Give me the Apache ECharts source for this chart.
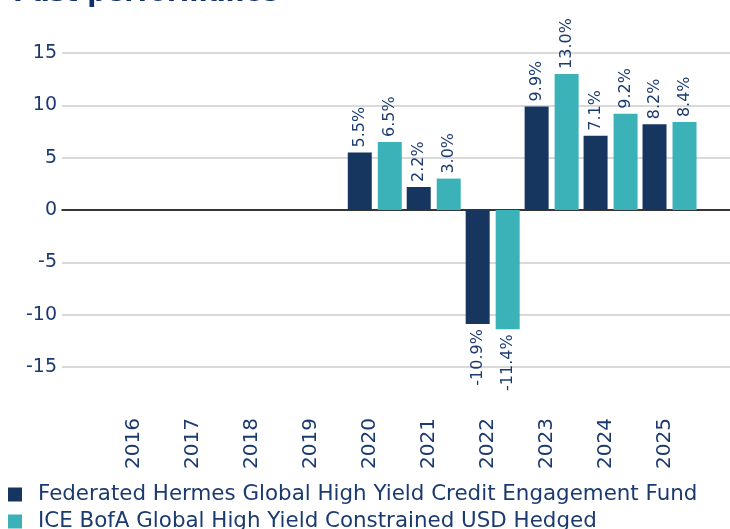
<!DOCTYPE html>
<html>
<head>
<meta charset="utf-8">
<script src="https://cdn.jsdelivr.net/npm/echarts@6/dist/echarts.min.js"></script>
<style>
  html, body { margin: 0; padding: 0; background: #fff; }
  #chart { width: 730px; height: 529px; }
</style>
</head>
<body>
<div id="chart"></div>
<script>
// past performance, calendar years
const years = ['2016', '2017', '2018', '2019', '2020', '2021', '2022', '2023', '2024', '2025'];
const fundReturns = [null, null, null, null, 5.5, 2.2, -10.9, 9.9, 7.1, 8.2];
const indexReturns = [null, null, null, null, 6.5, 3.0, -11.4, 13.0, 9.2, 8.4];
const seriesNames = [
  'Federated Hermes Global High Yield Credit Engagement Fund',
  'ICE BofA Global High Yield Constrained USD Hedged'
];

const NAVY = '#16365f';
const TEAL = '#3bb1b8';
const TEXT = '#1b3a70';
const FONT = 'DejaVu Sans';

// negative bars get their label underneath
function toItems(values) {
  return values.map(v => {
    if (v == null) return null;
    if (v < 0) return { value: v, label: { position: 'bottom', align: 'right' } };
    return v;
  });
}

const chart = echarts.init(document.getElementById('chart'));

const barLabel = {
  show: true,
  position: 'top',
  rotate: 90,
  align: 'left',
  verticalAlign: 'middle',
  distance: 5,
  color: TEXT,
  fontFamily: FONT,
  fontSize: 16,
  formatter: p => p.value.toFixed(1) + '%'
};

const legendText = { color: TEXT, fontSize: 21.4, fontFamily: FONT, padding: [0, 0, 0, 11], lineHeight: 21 };

chart.setOption({
  animation: false,
  textStyle: { fontFamily: FONT },
  title: {
    text: 'Past performance',
    left: 8,
    top: -24,
    textStyle: { color: '#12306b', fontSize: 26.5, fontWeight: 'bold', fontFamily: FONT }
  },
  legend: [
    {
      left: 3, top: 479, icon: 'rect', itemWidth: 14, itemHeight: 14,
      textStyle: legendText, data: [seriesNames[0]]
    },
    {
      left: 3, top: 506, icon: 'rect', itemWidth: 14, itemHeight: 14,
      textStyle: legendText, data: [seriesNames[1]]
    }
  ],
  grid: [
    { left: 62, right: 0, top: 53, bottom: 162 },
    { left: 109.5, right: 31, top: 53, bottom: 162 },
    // year labels sit a few px left of the bar groups
    { left: 104.5, right: 36, top: 53, bottom: 162 }
  ],
  xAxis: [
    {
      gridIndex: 0,
      type: 'value',
      min: 0,
      max: 1,
      axisLine: { show: true, onZero: true, lineStyle: { color: '#000', width: 1.5 } },
      axisTick: { show: false },
      axisLabel: { show: false },
      splitLine: { show: false }
    },
    {
      gridIndex: 1,
      type: 'category',
      data: years,
      axisLine: { show: false, onZero: false },
      axisTick: { show: false },
      axisLabel: { show: false }
    },
    {
      gridIndex: 2,
      type: 'category',
      data: years,
      position: 'bottom',
      axisLine: { show: false, onZero: false },
      axisTick: { show: false },
      axisLabel: { rotate: 90, margin: 51, color: TEXT, fontSize: 20, fontFamily: FONT }
    }
  ],
  yAxis: [
    {
      gridIndex: 0,
      type: 'value',
      min: -15,
      max: 15,
      interval: 5,
      axisLine: { show: false },
      axisTick: { show: false },
      axisLabel: { margin: 5, color: TEXT, fontSize: 19, fontFamily: FONT },
      splitLine: { lineStyle: { color: '#d9d9d9', width: 2 } }
    },
    { gridIndex: 1, type: 'value', min: -15, max: 15, interval: 5, show: false },
    { gridIndex: 2, type: 'value', min: -15, max: 15, interval: 5, show: false }
  ],
  series: [
    {
      name: seriesNames[0],
      type: 'bar',
      xAxisIndex: 1,
      yAxisIndex: 1,
      barWidth: 24,
      barGap: '25%',
      itemStyle: { color: NAVY },
      label: barLabel,
      data: toItems(fundReturns)
    },
    {
      name: seriesNames[1],
      type: 'bar',
      xAxisIndex: 1,
      yAxisIndex: 1,
      barWidth: 24,
      barGap: '25%',
      itemStyle: { color: TEAL },
      label: barLabel,
      data: toItems(indexReturns)
    }
  ]
});
</script>
</body>
</html>
